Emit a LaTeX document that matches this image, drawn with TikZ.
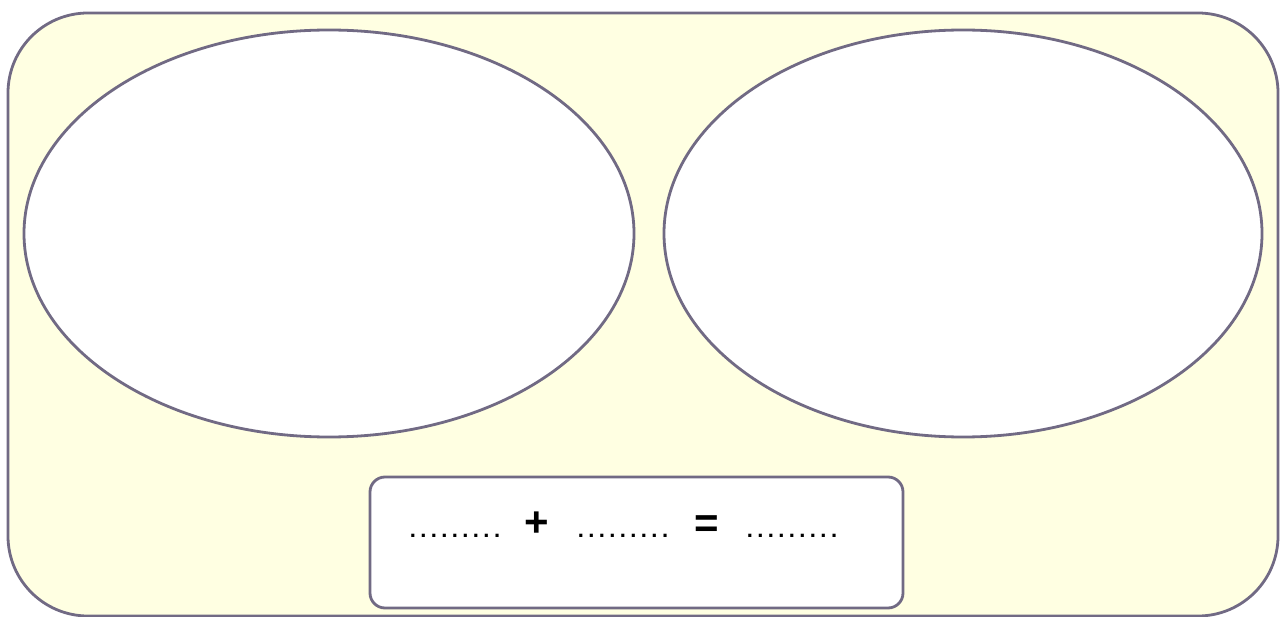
\documentclass[tikz,border=0pt]{standalone}
\usepackage{fontspec}
\setmainfont{Liberation Sans}
\usetikzlibrary{shapes.geometric}
\begin{document}
\begin{tikzpicture}[x=1pt,y=-1pt,
  edge/.style={draw=lineC, line width=2.8pt},
  dotstext/.style={anchor=base, inner sep=0pt, font=\fontsize{22}{24}\selectfont\bfseries\addfontfeature{LetterSpace=20}},
  optext/.style={anchor=base, inner sep=0pt, font=\fontsize{42}{44}\selectfont\bfseries}]
\definecolor{lineC}{HTML}{716A84}
\definecolor{creamC}{HTML}{FFFFE2}
\useasboundingbox (0,0) rectangle (1284,617);
\path[edge, fill=creamC, rounded corners=80pt] (8,13) rectangle (1278,616);
\node[edge, fill=white, ellipse, minimum width=610pt, minimum height=407pt, inner sep=0pt] (left) at (329,233.5) {};
\node[edge, fill=white, ellipse, minimum width=598pt, minimum height=407pt, inner sep=0pt] (right) at (963,233.5) {};
\path[edge, fill=white, rounded corners=15pt] (370,477) rectangle (903,608);
\node[dotstext] (d1) at (455,537) {.........};
\node[optext] (plus) at (537,536.5) {+};
\node[dotstext] (d2) at (623,537) {.........};
\node[optext] (eq) at (707,537.5) {=};
\node[dotstext] (d3) at (792,537) {.........};
\end{tikzpicture}
\end{document}
